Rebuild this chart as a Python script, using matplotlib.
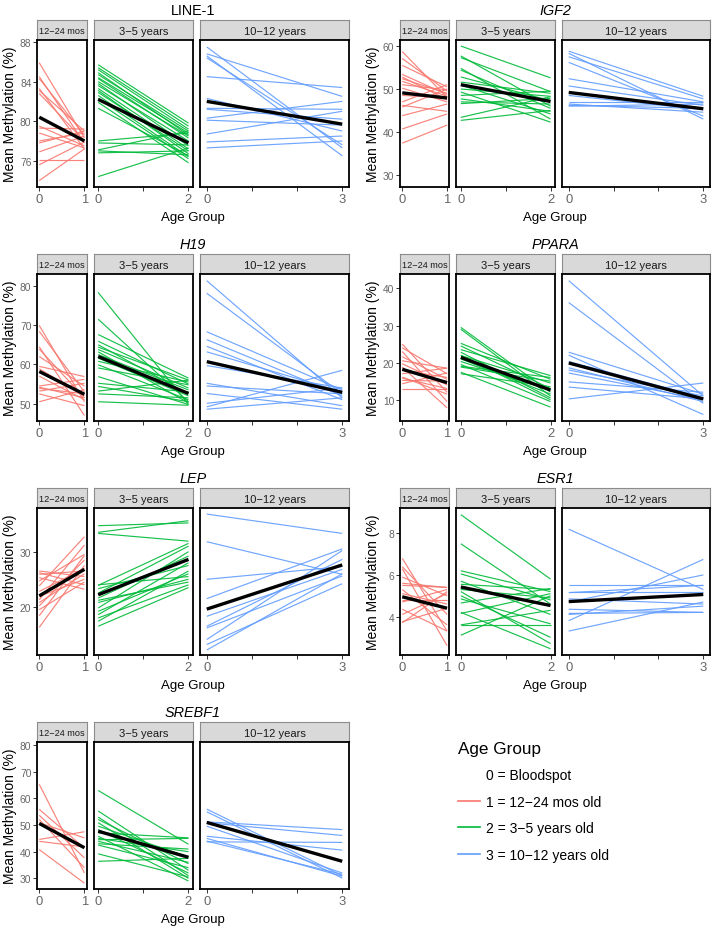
import matplotlib
matplotlib.use("Agg")
import matplotlib.pyplot as plt
from matplotlib.lines import Line2D

plt.rcParams['font.family'] = ['Liberation Sans', 'DejaVu Sans']

# facets / groups
facet_names = ['12\u221224 mos', '3\u22125 years', '10\u221212 years']
facet_xmax = [1, 2, 3]
group_colors = ['#F8766D', '#00BA38', '#619CFF']
legend_labels = ['0 = Bloodspot', '1 = 12\u221224 mos old',
                 '2 = 3\u22125 years old', '3 = 10\u221212 years old']

# (value at age 0, value at age group) per child
line1_mos = [(85.9, 78.3), (84.5, 77.8), (84.3, 78.6), (83.3, 77.2), (83.1, 79.0),
             (82.8, 78.0), (79.5, 77.5), (79.3, 79.2), (78.8, 77.3), (78.0, 78.8),
             (77.8, 79.0), (76.9, 78.5), (76.1, 76.1), (75.6, 77.9), (74.0, 77.2)]
line1_35 = [(85.7, 79.8), (85.4, 79.5), (85.2, 79.2), (84.9, 78.6), (84.7, 79.0),
            (84.4, 78.8), (84.3, 78.3), (84.0, 78.5), (83.8, 77.5), (83.6, 78.0),
            (83.3, 77.2), (83.1, 76.7), (82.9, 77.0), (82.6, 76.4), (82.3, 76.2),
            (81.9, 75.8), (81.3, 76.5), (78.0, 78.8), (77.8, 77.6), (77.1, 79.0),
            (77.0, 76.6), (76.8, 77.0), (74.4, 77.3)]
line1_1012 = [(87.5, 77.3), (86.8, 82.5), (86.6, 76.5), (86.4, 77.6), (84.5, 83.4),
              (82.3, 79.0), (81.3, 81.2), (81.2, 80.2), (80.3, 82.0), (80.1, 79.6),
              (78.7, 81.0), (77.9, 78.5), (77.3, 78.0)]
line1_fit = [(80.4, 78.0), (82.2, 77.8), (82.0, 79.7)]

igf2_mos = [(58.7, 48.0), (57.1, 49.5), (55.5, 50.5), (53.4, 48.7), (52.8, 47.5),
            (52.4, 49.0), (51.8, 48.3), (51.0, 49.8), (50.2, 47.0), (48.5, 48.0),
            (47.0, 51.0), (46.2, 44.8), (45.8, 50.0), (43.8, 46.5), (40.7, 44.2),
            (37.4, 41.6)]
igf2_35 = [(60.0, 52.6), (57.7, 46.0), (57.3, 49.4), (54.8, 43.0), (54.4, 45.5),
           (52.8, 47.3), (51.6, 49.0), (50.9, 44.2), (50.0, 48.3), (49.3, 42.3),
           (48.5, 49.5), (47.7, 44.8), (47.0, 46.5), (46.6, 47.8), (43.4, 48.2),
           (42.7, 45.0)]
igf2_1012 = [(58.8, 48.3), (58.3, 43.0), (57.5, 47.7), (56.2, 43.7), (52.4, 47.0),
             (50.7, 46.2), (48.5, 45.2), (47.0, 47.0), (46.5, 44.6), (46.2, 45.5),
             (46.0, 46.5)]
igf2_fit = [(49.1, 47.9), (51.0, 47.1), (49.2, 45.4)]

h19_mos = [(69.9, 50.5), (68.4, 53.0), (64.5, 47.0), (63.9, 51.5), (62.0, 54.5),
           (59.5, 56.9), (58.9, 52.0), (57.0, 51.0), (54.5, 56.2), (53.9, 52.5),
           (53.2, 55.2), (52.5, 49.5), (50.5, 53.6), (54.2, 51.5)]
h19_35 = [(78.3, 49.8), (71.5, 50.5), (67.6, 56.5), (65.9, 55.0), (65.0, 52.5),
          (64.4, 56.0), (63.8, 54.0), (63.2, 50.2), (62.5, 53.5), (61.6, 52.0),
          (60.8, 55.5), (59.9, 51.0), (59.1, 54.8), (56.9, 49.8), (55.2, 53.0),
          (54.4, 50.5), (53.2, 56.0), (52.5, 51.5), (50.5, 49.6)]
h19_1012 = [(81.3, 51.5), (78.1, 52.5), (68.3, 53.5), (66.3, 52.0), (64.6, 51.0),
            (63.2, 53.0), (59.7, 54.0), (55.2, 49.5), (54.5, 52.5), (52.6, 48.6),
            (50.1, 54.0), (49.2, 58.5), (48.6, 51.5)]
h19_fit = [(58.2, 52.4), (62.0, 52.6), (60.7, 52.9)]

ppara_mos = [(25.0, 12.0), (24.0, 17.0), (23.0, 9.5), (21.6, 15.5), (20.5, 18.5),
             (19.7, 14.0), (18.8, 7.8), (17.9, 16.0), (17.0, 18.5), (16.1, 11.5),
             (15.2, 15.0), (14.3, 17.2), (12.9, 12.9), (15.8, 13.0)]
ppara_35 = [(29.5, 12.0), (29.0, 11.0), (25.2, 15.5), (24.5, 13.0), (23.5, 16.5),
            (22.8, 10.5), (21.9, 14.5), (21.0, 11.5), (20.3, 12.5), (19.5, 9.5),
            (18.8, 15.0), (17.4, 8.0), (17.0, 13.5), (19.0, 16.0), (22.0, 10.0)]
ppara_1012 = [(42.1, 11.0), (36.2, 9.0), (22.8, 11.5), (22.0, 6.0), (20.3, 10.5),
              (18.6, 9.5), (18.0, 11.0), (17.2, 10.0), (14.8, 12.0), (13.4, 10.2),
              (10.2, 14.5)]
ppara_fit = [(18.2, 14.6), (21.4, 12.6), (19.9, 10.2)]

lep_mos = [(26.5, 25.5), (26.2, 24.0), (25.9, 26.5), (25.3, 23.2), (24.7, 29.5),
           (23.8, 32.7), (22.8, 27.0), (21.9, 25.0), (21.3, 31.2), (20.8, 26.0),
           (20.2, 28.5), (19.5, 24.5), (18.4, 29.3), (16.3, 27.5)]
lep_35 = [(34.7, 35.2), (33.5, 35.6), (33.3, 31.9), (23.9, 31.5), (23.3, 27.5),
          (21.6, 29.2), (20.8, 25.0), (19.8, 30.0), (19.2, 26.0), (18.6, 28.0),
          (18.0, 24.0), (17.4, 26.5), (16.5, 23.5), (21.2, 24.5), (22.5, 31.0),
          (24.0, 25.5)]
lep_1012 = [(36.8, 33.3), (31.8, 25.9), (25.0, 27.3), (21.5, 30.5), (18.3, 26.8),
            (16.5, 28.6), (16.2, 25.6), (14.1, 30.2), (13.2, 24.2), (12.2, 26.0)]
lep_fit = [(22.0, 26.8), (22.2, 28.6), (19.6, 27.6)]

esr1_mos = [(6.8, 3.3), (6.4, 4.1), (6.3, 2.6), (5.9, 5.0), (5.6, 5.4),
            (5.5, 5.4), (5.3, 3.6), (5.1, 4.6), (4.8, 4.8), (4.7, 5.3),
            (4.35, 3.3), (4.1, 5.1), (3.75, 4.4), (3.7, 5.2)]
esr1_35 = [(8.9, 5.8), (7.5, 4.6), (6.2, 5.2), (6.05, 4.8), (5.7, 4.1),
           (5.55, 5.3), (5.3, 4.9), (5.0, 3.0), (4.85, 3.65), (4.65, 5.35),
           (4.2, 2.45), (4.15, 5.1), (3.6, 3.6), (3.6, 4.3), (3.1, 5.0), (5.2, 2.7)]
esr1_1012 = [(8.2, 5.3), (5.5, 5.5), (5.2, 5.2), (5.15, 5.5), (4.85, 4.6),
             (4.7, 6.0), (4.35, 4.2), (4.15, 4.2), (3.8, 6.75), (3.3, 4.7), (4.1, 4.5)]
esr1_fit = [(4.95, 4.4), (5.42, 4.53), (4.72, 5.06)]

srebf1_mos = [(65.3, 32.0), (55.9, 41.4), (53.7, 37.7), (52.1, 34.0), (50.9, 45.2),
              (44.6, 47.5), (43.9, 41.8), (40.8, 28.2)]
srebf1_35 = [(63.0, 42.8), (55.3, 33.0), (53.0, 31.0), (52.1, 35.5), (50.9, 30.0),
             (49.6, 38.0), (48.3, 32.0), (47.1, 45.2), (45.8, 29.0), (45.0, 40.0),
             (43.9, 36.0), (43.0, 41.0), (39.2, 30.5), (36.4, 37.5), (44.5, 45.0),
             (42.5, 34.0)]
srebf1_1012 = [(56.0, 31.0), (55.0, 30.1), (51.2, 48.3), (50.9, 46.1), (49.6, 32.0),
               (45.8, 40.6), (45.0, 30.8), (44.0, 31.5), (43.7, 43.5)]
srebf1_fit = [(50.6, 41.5), (47.7, 37.9), (51.0, 36.4)]

genes = ['LINE-1', 'IGF2', 'H19', 'PPARA', 'LEP', 'ESR1', 'SREBF1']
gene_lines = [
    [line1_mos, line1_35, line1_1012],
    [igf2_mos, igf2_35, igf2_1012],
    [h19_mos, h19_35, h19_1012],
    [ppara_mos, ppara_35, ppara_1012],
    [lep_mos, lep_35, lep_1012],
    [esr1_mos, esr1_35, esr1_1012],
    [srebf1_mos, srebf1_35, srebf1_1012],
]
gene_fits = [line1_fit, igf2_fit, h19_fit, ppara_fit, lep_fit, esr1_fit, srebf1_fit]
gene_yticks = [[76, 80, 84, 88], [30, 40, 50, 60], [50, 60, 70, 80], [10, 20, 30, 40],
               [20, 30], [4, 6, 8], [30, 40, 50, 60, 70, 80]]
gene_ylim = [(73.35, 88.2), (27.2, 61.4), (45.6, 83.0), (4.25, 43.9),
             (11.3, 37.9), (2.15, 9.22), (26.0, 81.2)]

# ---- layout (pixels) ----
W, H = 714, 929
fig = plt.figure(figsize=(W / 100, H / 100), dpi=100)

col_left = [37, 400]
col_right = [349, 710]
row_top = [21, 255, 489, 723]
strip_h = 20
panel_h = 147
gap = 7


def add_px_axes(x0, x1, ytop, ybot):
    return fig.add_axes([x0 / W, 1 - ybot / H, (x1 - x0) / W, (ybot - ytop) / H])


for gi, gene in enumerate(genes):
    r, c = gi // 2, gi % 2
    unit = (col_right[c] - col_left[c] - 2 * gap) / 6.0
    x = col_left[c]
    st = row_top[r]
    ptop = st + strip_h
    pbot = ptop + panel_h
    for fi in range(3):
        m = facet_xmax[fi]
        w = unit * m
        # strip
        sax = add_px_axes(x, x + w, st, ptop)
        sax.set_facecolor('#D9D9D9')
        sax.set_xticks([])
        sax.set_yticks([])
        for sp in sax.spines.values():
            sp.set_color('#8C8C8C')
            sp.set_linewidth(0.8)
        sax.text(0.5, 0.47, facet_names[fi], ha='center', va='center',
                 fontsize=6.6 if fi == 0 else 8, color='#1A1A1A',
                 transform=sax.transAxes)
        # panel
        ax = add_px_axes(x, x + w, ptop, pbot)
        for s, e in gene_lines[gi][fi]:
            ax.plot([0, m], [s, e], color=group_colors[fi], lw=0.85, alpha=0.9,
                    solid_capstyle='butt')
        fs, fe = gene_fits[gi][fi]
        ax.plot([0, m], [fs, fe], color='black', lw=2.4, solid_capstyle='butt')
        ax.set_xlim(-0.05 * m, m * 1.05)
        ax.set_ylim(*gene_ylim[gi])
        ax.set_xticks(range(m + 1))
        ax.set_xticklabels(['0'] + [''] * (m - 1) + [str(m)])
        ax.tick_params(axis='x', length=3, width=0.7, color='#333333',
                       labelsize=9.4, labelcolor='#666666', pad=1.5)
        if fi == 0:
            ax.set_yticks(gene_yticks[gi])
            ax.tick_params(axis='y', length=3, width=0.7, color='#333333',
                           labelsize=7.4, labelcolor='#666666', pad=1)
        else:
            ax.set_yticks([])
        for sp in ax.spines.values():
            sp.set_color('black')
            sp.set_linewidth(1.3)
        x += w + gap

    cx = (col_left[c] + col_right[c]) / 2
    fig.text(cx / W, 1 - (st - 10) / H, gene, ha='center', va='center',
             fontsize=10.4, style='normal' if gene == 'LINE-1' else 'italic')
    fig.text(cx / W, 1 - (pbot + 30) / H, 'Age Group', ha='center', va='center',
             fontsize=9.5)
    fig.text((col_left[c] - 27) / W, 1 - (ptop + pbot) / 2 / H,
             'Mean Methylation (%)', rotation=90, ha='center', va='center',
             fontsize=10)

# legend
handles = [Line2D([], [], color='none', lw=1.2)] + \
          [Line2D([], [], color=col, lw=1.2) for col in group_colors]
fig.legend(handles, legend_labels, title='Age Group', loc='upper left',
           bbox_to_anchor=(452 / W, 1 - 736 / H), frameon=False, fontsize=10,
           title_fontsize=12.3, handlelength=1.6, handletextpad=0.45,
           labelspacing=0.9, alignment='left', borderaxespad=0)

fig.savefig('out.png', dpi=100)
